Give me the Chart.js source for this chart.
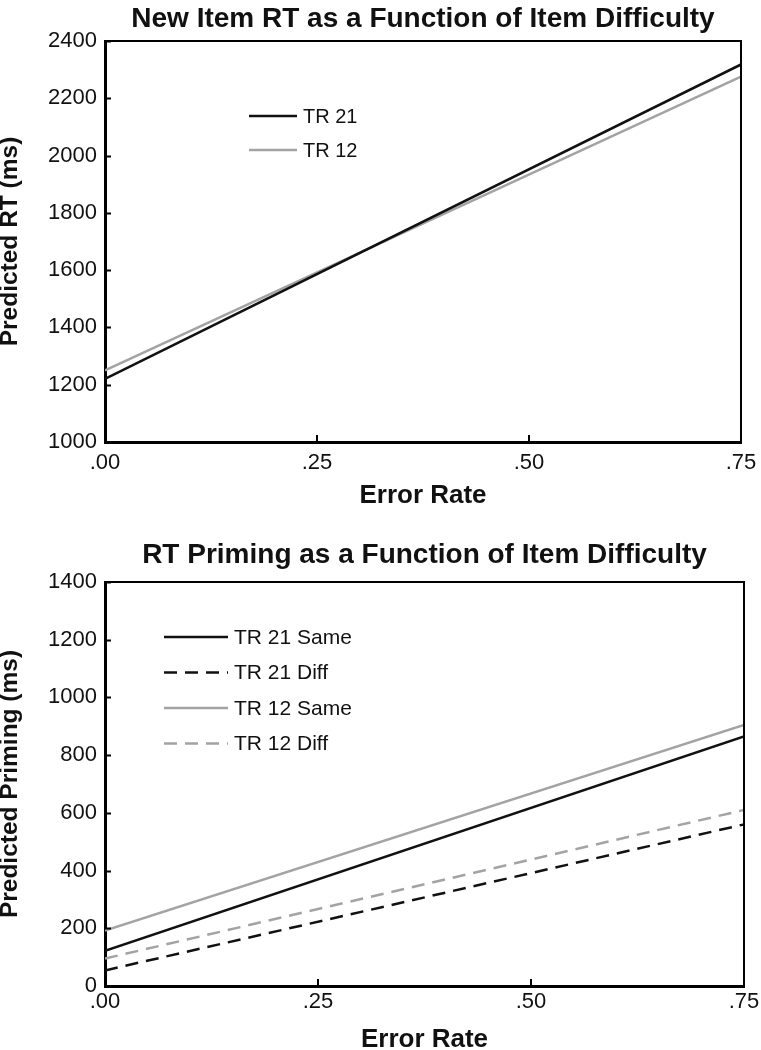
<!DOCTYPE html>
<html>
<head>
<meta charset="utf-8">
<script src="https://cdn.jsdelivr.net/npm/chart.js@4.4.1/dist/chart.umd.min.js"></script>
<style>
  html, body { margin: 0; padding: 0; background: #fff; }
  canvas { display: block; }
</style>
</head>
<body>
<canvas id="rtChart" width="761" height="525"></canvas>
<canvas id="primingChart" width="761" height="525"></canvas>
<script>
// values
var errorRate = [0, 0.75];
var xTicks = [0, 0.25, 0.5, 0.75];

var rtTR21 = [1220, 2318];
var rtTR12 = [1250, 2276];

var primTR21Same = [122, 865];
var primTR21Diff = [54, 560];
var primTR12Same = [192, 905];
var primTR12Diff = [95, 610];

var BLACK = '#111111';
var GREY = '#a3a3a3';
var FONT = "'Liberation Sans', Arial, Helvetica, sans-serif";

Chart.defaults.font.family = FONT;
Chart.defaults.color = '#111';

function pts(ys) {
    return errorRate.map(function (x, i) { return { x: x, y: ys[i] }; });
}

// box on top/right plus inward tick marks
var framePlugin = {
    id: 'frame',
    afterDraw: function (chart) {
        var a = chart.chartArea, ctx = chart.ctx;
        var xs = chart.scales.x, ys = chart.scales.y;
        ctx.save();
        ctx.strokeStyle = '#000';
        ctx.lineWidth = 2;
        ctx.beginPath();
        ctx.moveTo(a.left, a.top);
        ctx.lineTo(a.right, a.top);
        ctx.lineTo(a.right, a.bottom);
        ctx.stroke();
        ctx.lineWidth = 2;
        ctx.beginPath();
        ys.ticks.forEach(function (t) {
            var py = Math.round(ys.getPixelForValue(t.value)) + 0.5;
            ctx.moveTo(a.left, py);
            ctx.lineTo(a.left + 6, py);
        });
        xs.ticks.forEach(function (t) {
            var px = Math.round(xs.getPixelForValue(t.value));
            ctx.moveTo(px, a.bottom);
            ctx.lineTo(px, a.bottom - 7);
        });
        ctx.stroke();
        ctx.restore();
    }
};

// legend drawn inside the plot area
var innerLegend = {
    id: 'innerLegend',
    afterDraw: function (chart, args, opts) {
        var a = chart.chartArea, ctx = chart.ctx;
        ctx.save();
        ctx.font = opts.fontSize + 'px ' + FONT;
        ctx.textBaseline = 'middle';
        ctx.fillStyle = '#111';
        chart.data.datasets.forEach(function (ds, i) {
            var y = a.top + opts.top + i * opts.gap;
            var x0 = a.left + opts.left;
            ctx.strokeStyle = ds.borderColor;
            ctx.lineWidth = ds.borderWidth;
            ctx.setLineDash(ds.borderDash || []);
            ctx.beginPath();
            ctx.moveTo(x0, y);
            ctx.lineTo(x0 + opts.len, y);
            ctx.stroke();
            ctx.setLineDash([]);
            ctx.fillText(ds.label, x0 + opts.len + 6, y + 1);
        });
        ctx.restore();
    }
};

function makeOptions(cfg) {
    return {
        responsive: false,
        animation: false,
        layout: { padding: 0 },
        elements: { point: { radius: 0 }, line: { tension: 0 } },
        plugins: {
            legend: { display: false },
            tooltip: { enabled: false },
            title: {
                display: true,
                fullSize: false,
                text: cfg.title,
                color: '#111',
                font: { size: 28, weight: 'bold', lineHeight: 1.2 },
                padding: { top: cfg.titleTop, bottom: cfg.titleBottom }
            },
            innerLegend: cfg.legend
        },
        scales: {
            x: {
                type: 'linear',
                min: 0,
                max: 0.75,
                afterBuildTicks: function (s) {
                    s.ticks = xTicks.map(function (v) { return { value: v }; });
                },
                afterFit: function (s) {
                    s.height = cfg.xHeight;
                    s.paddingLeft = 0;
                    s.paddingRight = cfg.rightPad;
                },
                grid: { display: false, drawTicks: false },
                border: { display: true, color: '#000', width: 3 },
                ticks: {
                    padding: cfg.xTickPad,
                    maxRotation: 0,
                    font: { size: 22 },
                    color: '#111',
                    callback: function (v) { return v.toFixed(2).replace(/^0/, ''); }
                },
                title: {
                    display: true,
                    text: 'Error Rate',
                    color: '#111',
                    font: { size: 26, weight: 'bold', lineHeight: cfg.xTitleLH },
                    padding: { top: 0, bottom: cfg.xTitlePad }
                }
            },
            y: {
                min: cfg.yMin,
                max: cfg.yMax,
                afterFit: function (s) {
                    s.width = 105;
                    s.paddingTop = 0;
                    s.paddingBottom = 0;
                },
                grid: { display: false, drawTicks: false },
                border: { display: true, color: '#000', width: 3 },
                ticks: {
                    stepSize: 200,
                    padding: 8,
                    font: { size: 22 },
                    color: '#111',
                    callback: function (v) { return String(v); }
                },
                title: {
                    display: true,
                    text: cfg.yTitle,
                    color: '#111',
                    font: { size: 24.5, weight: 'bold', lineHeight: 0.8 },
                    padding: 0
                }
            }
        }
    };
}

new Chart(document.getElementById('rtChart').getContext('2d'), {
    type: 'line',
    data: {
        datasets: [
            { label: 'TR 21', data: pts(rtTR21), borderColor: BLACK, borderWidth: 2.5 },
            { label: 'TR 12', data: pts(rtTR12), borderColor: GREY, borderWidth: 2.5 }
        ]
    },
    options: makeOptions({
        title: 'New Item RT as a Function of Item Difficulty',
        titleTop: 2, titleBottom: 5.4,
        yTitle: 'Predicted RT (ms)',
        yMin: 1000, yMax: 2400,
        xHeight: 83, rightPad: 20, xTickPad: 8,
        xTitleLH: 1.2, xTitlePad: 13.4,
        legend: { left: 144, top: 75, gap: 34, len: 48, fontSize: 20 }
    }),
    plugins: [framePlugin, innerLegend]
});

new Chart(document.getElementById('primingChart').getContext('2d'), {
    type: 'line',
    data: {
        datasets: [
            { label: 'TR 21 Same', data: pts(primTR21Same), borderColor: BLACK, borderWidth: 2.5 },
            { label: 'TR 21 Diff', data: pts(primTR21Diff), borderColor: BLACK, borderWidth: 2.5, borderDash: [13, 8] },
            { label: 'TR 12 Same', data: pts(primTR12Same), borderColor: GREY, borderWidth: 2.5 },
            { label: 'TR 12 Diff', data: pts(primTR12Diff), borderColor: GREY, borderWidth: 2.5, borderDash: [13, 8] }
        ]
    },
    options: makeOptions({
        title: 'RT Priming as a Function of Item Difficulty',
        titleTop: 13.2, titleBottom: 10.2,
        yTitle: 'Predicted Priming (ms)',
        yMin: 0, yMax: 1400,
        xHeight: 64, rightPad: 17, xTickPad: 3,
        xTitleLH: 0.8, xTitlePad: 0,
        legend: { left: 59, top: 55, gap: 35.5, len: 64, fontSize: 21 }
    }),
    plugins: [framePlugin, innerLegend]
});
</script>
</body>
</html>
